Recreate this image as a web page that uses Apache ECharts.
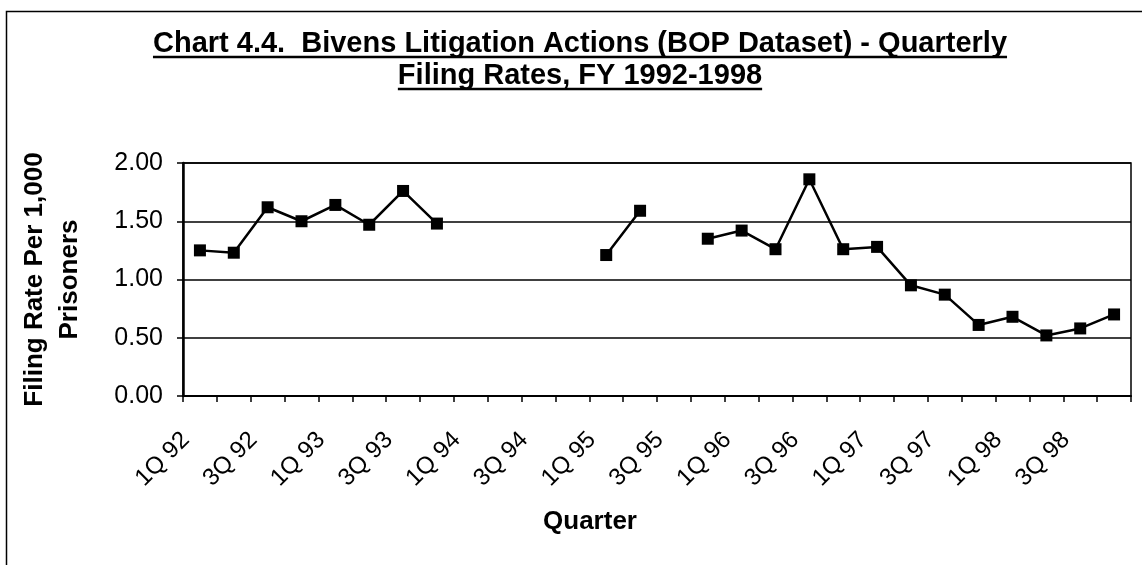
<!DOCTYPE html>
<html>
<head>
<meta charset="utf-8">
<script src="https://cdn.jsdelivr.net/npm/echarts@6/dist/echarts.min.js"></script>
<style>
  html, body { margin: 0; padding: 0; background: #fff; }
  #chart { width: 1142px; height: 565px; }
</style>
</head>
<body>
<div id="chart"></div>
<script>
// quarters 1Q 92 .. 4Q 98
const quarters = [
  '1Q 92', '2Q 92', '3Q 92', '4Q 92',
  '1Q 93', '2Q 93', '3Q 93', '4Q 93',
  '1Q 94', '2Q 94', '3Q 94', '4Q 94',
  '1Q 95', '2Q 95', '3Q 95', '4Q 95',
  '1Q 96', '2Q 96', '3Q 96', '4Q 96',
  '1Q 97', '2Q 97', '3Q 97', '4Q 97',
  '1Q 98', '2Q 98', '3Q 98', '4Q 98'
];

// filing rate per 1,000 prisoners (null = no data)
const filingRates = [
  1.25, 1.23, 1.62, 1.50,
  1.64, 1.47, 1.76, 1.48,
  null, null, null, null,
  1.21, 1.59, null, 1.35,
  1.42, 1.26, 1.86, 1.26,
  1.28, 0.95, 0.87, 0.61,
  0.68, 0.52, 0.58, 0.70
];

const yTicks = [0, 0.5, 1, 1.5, 2];

const titleLines = [
  'Chart 4.4.  Bivens Litigation Actions (BOP Dataset) - Quarterly',
  'Filing Rates, FY 1992-1998'
];

const FONT = '"Liberation Sans", Arial, sans-serif';
const titleFont = 'bold 29px ' + FONT;
const titleCx = 580;
const titleYs = [44, 76];

// measure title widths for the underline
const ctx = document.createElement('canvas').getContext('2d');
ctx.font = titleFont;

const graphics = [
  {
    type: 'rect',
    silent: true,
    shape: { x: 6.5, y: 11.5, width: 1150, height: 600 },
    style: { fill: 'none', stroke: '#000', lineWidth: 1.5 }
  }
];
titleLines.forEach((t, i) => {
  const w = ctx.measureText(t).width;
  graphics.push({
    type: 'text',
    silent: true,
    style: {
      text: t, x: titleCx, y: titleYs[i],
      font: titleFont, fill: '#000',
      align: 'center', verticalAlign: 'middle'
    }
  });
  graphics.push({
    type: 'line',
    silent: true,
    shape: { x1: titleCx - w / 2, y1: titleYs[i] + 13, x2: titleCx + w / 2, y2: titleYs[i] + 13 },
    style: { stroke: '#000', lineWidth: 2.5 }
  });
});

const chart = echarts.init(document.getElementById('chart'));

const option = {
  backgroundColor: '#fff',
  animation: false,
  graphic: graphics,
  grid: { left: 183, right: 11, top: 163, bottom: 169, show: true, borderColor: '#000', borderWidth: 1.5 },
  xAxis: {
    type: 'category',
    data: quarters,
    boundaryGap: true,
    name: 'Quarter',
    nameLocation: 'middle',
    nameGap: 113,
    nameTextStyle: {
      fontFamily: FONT, fontWeight: 'bold', fontSize: 26, color: '#000',
      padding: [0, 134, 0, 0]
    },
    axisLine: { lineStyle: { color: '#000', width: 2 } },
    axisTick: { show: true, length: 6, interval: 0, lineStyle: { color: '#000', width: 1.5 } },
    axisLabel: {
      interval: 1,
      rotate: 45,
      margin: 26,
      padding: [0, 20, 0, 0],
      fontFamily: FONT,
      fontSize: 24,
      color: '#000'
    },
    splitLine: { show: false }
  },
  yAxis: {
    type: 'value',
    min: yTicks[0],
    max: yTicks[yTicks.length - 1],
    interval: 0.5,
    name: 'Filing Rate Per 1,000\nPrisoners',
    nameLocation: 'middle',
    nameRotate: 90,
    nameGap: 96,
    nameTextStyle: { fontFamily: FONT, fontWeight: 'bold', fontSize: 26, color: '#000', lineHeight: 35 },
    axisLine: { show: true, lineStyle: { color: '#000', width: 2.5 } },
    axisTick: { show: true, length: 6, lineStyle: { color: '#000', width: 1.5 } },
    axisLabel: {
      margin: 20,
      fontFamily: FONT,
      fontSize: 25,
      color: '#000',
      formatter: v => v.toFixed(2)
    },
    splitLine: { show: true, lineStyle: { color: '#000', width: 1.5 } }
  },
  series: [
    {
      name: 'Filing Rate',
      type: 'line',
      data: filingRates,
      connectNulls: false,
      symbol: 'rect',
      symbolSize: 12,
      showAllSymbol: true,
      itemStyle: { color: '#000' },
      lineStyle: { color: '#000', width: 2.5 }
    }
  ]
};

chart.setOption(option);
</script>
</body>
</html>
